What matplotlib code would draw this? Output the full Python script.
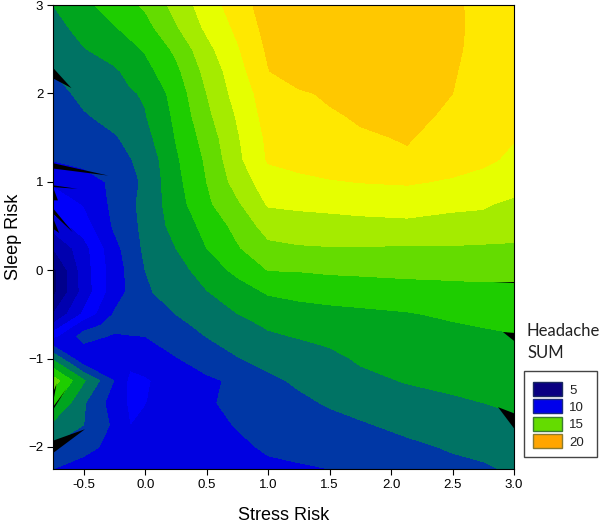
import matplotlib
matplotlib.use("Agg")
import matplotlib.pyplot as plt
from matplotlib.patches import Rectangle
import numpy as np

plt.rcParams['font.family'] = ['Liberation Sans', 'DejaVu Sans']

stress = [-0.75, -0.5, -0.25, -0.123, 0, 0.25, 0.5, 0.75, 1.0, 1.25, 1.5, 1.75, 2.13, 2.5, 2.75, 3.0]
sleep = [3, 2.75, 2.5, 2.25, 2, 1.75, 1.5, 1.25, 1, 0.75, 0.5, 0.25, 0, -0.25, -0.5, -0.624, -0.75, -1, -1.25, -1.5, -1.75, -2, -2.25]
headache = [
    [13.0, 13.75, 14.45, 14.8, 15.15, 16.35, 17.5, 18.5, 19.5, 20, 20.5, 20.7, 20.6, 19.4, 18.3, 18.2],
    [12.6, 13.4, 13.95, 14.3, 14.65, 15.9, 17.2, 18.2, 19.35, 20, 20.5, 20.7, 20.6, 19.4, 18.4, 18.2],
    [12.3, 12.95, 13.45, 13.75, 14.1, 15.2, 16.7, 17.9, 19.15, 19.9, 20.4, 20.6, 20.5, 19.25, 18.5, 18.2],
    [12.0, 12.5, 12.85, 13.25, 13.65, 14.75, 16.3, 17.6, 18.95, 19.8, 20.3, 20.5, 20.4, 19.1, 18.5, 18.2],
    [11.55, 12.3, 12.7, 12.9, 13.1, 14.4, 16, 17.4, 18.5, 18.8, 19.2, 19.6, 19.75, 19, 18.5, 18.2],
    [11.4, 11.9, 12.4, 12.67, 12.95, 14.2, 15.75, 17.1, 18.4, 18.65, 18.85, 19.15, 19.4, 18.75, 18.4, 18.2],
    [11.3, 11.6, 11.9, 12.27, 12.65, 14.05, 15.4, 16.9, 18.2, 18.5, 18.7, 18.85, 19.08, 18.55, 18.3, 18.05],
    [11.05, 11.3, 11.6, 11.95, 12.3, 13.85, 15.15, 16.75, 18.1, 18.35, 18.5, 18.65, 18.85, 18.4, 18.2, 17.8],
    [10.1, 10.55, 11.2, 11.7, 12.2, 13.7, 15, 16.4, 17.55, 17.75, 17.93, 18.03, 18.1, 17.9, 17.65, 17.45],
    [9.5, 10.05, 11.25, 11.8, 12.3, 13.55, 14.8, 15.85, 17.1, 17.2, 17.25, 17.35, 17.45, 17.15, 17.1, 16.8],
    [8.4, 9.5, 11.15, 11.7, 12.25, 13.35, 14.3, 15.3, 16.4, 16.55, 16.65, 16.7, 16.75, 16.75, 16.7, 16.6],
    [7, 8.6, 10.7, 11.45, 12.2, 13, 14, 14.9, 15.75, 15.9, 15.95, 15.95, 15.9, 15.9, 15.85, 15.8],
    [5.7, 8.5, 10.5, 11.25, 12, 12.6, 13.45, 14.25, 15.02, 15.05, 15.15, 15.2, 15.25, 15.35, 15.45, 15.5],
    [5.7, 8.4, 10.55, 11.2, 11.85, 12.45, 12.95, 13.5, 14.1, 14.3, 14.4, 14.45, 14.6, 14.6, 14.6, 14.5],
    [7, 9.2, 11.1, 11.3, 11.55, 12, 12.55, 12.98, 13.35, 13.55, 13.7, 13.8, 13.92, 14.15, 14.3, 14.4],
    [8.2, 10.55, 11.35, 11.35, 11.25, 11.72, 12.28, 12.7, 13.1, 13.3, 13.45, 13.58, 13.73, 13.92, 14.05, 14.17],
    [9.6, 11.4, 10.85, 10.95, 11, 11.45, 12.02, 12.45, 12.87, 13.05, 13.2, 13.35, 13.55, 13.7, 13.8, 13.93],
    [12.8, 10.1, 10.45, 10.3, 10.6, 10.95, 11.4, 11.95, 12.3, 12.55, 12.8, 13.1, 13.35, 13.45, 13.55, 13.6],
    [15.5, 13.1, 10.95, 9.75, 9.85, 10.6, 10.85, 11.15, 11.8, 12.15, 12.4, 12.8, 13.05, 13.25, 13.35, 13.4],
    [14.25, 12.1, 10.5, 9.85, 9.98, 10.3, 10.9, 11.2, 11.45, 11.8, 12.1, 12.35, 12.7, 12.85, 13, 13.2],
    [12.75, 12, 10.8, 9.99, 10.1, 10.35, 10.75, 11.05, 11.25, 11.5, 11.7, 11.9, 12.25, 12.5, 12.65, 12.75],
    [11.9, 11.3, 10.7, 10.5, 10.3, 10.4, 10.5, 10.85, 11.1, 11.25, 11.4, 11.55, 11.8, 12.1, 12.2, 12.3],
    [11, 10.6, 10.4, 10.35, 10.3, 10.3, 10.3, 10.5, 10.85, 10.9, 11, 11.15, 11.45, 11.75, 11.9, 12.1],
]
levels = [5, 6, 7, 8, 9, 10, 11, 12, 13, 14, 15, 16, 17, 18, 19, 30]
band_colors = ['#00006e', '#00008c', '#0000af', '#0000d2', '#0000fa', '#0000e1',
               '#0037a5', '#007364', '#00a51e', '#1ecd00', '#64dc00', '#a5eb00',
               '#e6ff00', '#ffe800', '#ffc800']
# Contouring gaps in the source, given in data units
gap_x = [[-0.75, -0.60, -0.75], [-0.75, -0.30, -0.75], [-0.75, -0.55, -0.75],
         [-0.75, -0.71, -0.75], [-0.75, -0.59, -0.75], [-0.75, -0.70, -0.75],
         [-0.72, -0.75, -0.75], [-0.64, -0.75, -0.75], [-0.75, -0.49, -0.75],
         [2.91, 3.0, 3.0], [2.87, 3.0, 3.0], [2.83, 3.0, 3.0]]
gap_y = [[2.29, 2.06, 2.17], [1.21, 1.07, 1.15], [0.96, 0.92, 0.94],
         [0.94, 0.79, 0.79], [0.70, 0.43, 0.64], [0.59, 0.42, 0.47],
         [-1.28, -1.50, -1.39], [-1.34, -1.58, -1.55], [-1.93, -1.80, -2.07],
         [-0.70, -0.71, -0.80], [-1.55, -1.62, -1.79], [-0.137, -0.137, -0.148]]
legend_labels = ['5', '10', '15', '20']
legend_colors = ['#0a0082', '#0000eb', '#64dc00', '#ffa500']
legend_edges = ['#1a2a60', '#1a2a80', '#3a7a30', '#8a7a30']

W, H = 600, 525
fig = plt.figure(figsize=(W / 100, H / 100), dpi=100)
ax = fig.add_axes([53 / W, 1 - 469 / H, (514 - 53) / W, (469 - 5) / H])
ax.contourf(stress, sleep, np.array(headache), levels=levels, colors=band_colors, antialiased=False)
for gx, gy in zip(gap_x, gap_y):
    ax.fill(gx, gy, color='black', lw=0)
ax.set_xlim(-0.75, 3.0)
ax.set_ylim(-2.25, 3.0)
ax.set_xticks([-0.5, 0, 0.5, 1, 1.5, 2, 2.5, 3])
ax.set_xticklabels(['-0.5', '0.0', '0.5', '1.0', '1.5', '2.0', '2.5', '3.0'])
ax.set_yticks([-2, -1, 0, 1, 2, 3])
ax.tick_params(labelsize=9.5, length=4, width=0.8, pad=3)
ax.set_xlabel('Stress Risk', fontsize=13, labelpad=12)
ax.set_ylabel('Sleep Risk', fontsize=13, labelpad=4)
for s in ax.spines.values():
    s.set_linewidth(0.8)

def px(x, y):
    return x / W, 1 - y / H

fig.text(*px(527, 336), 'Headache', fontsize=12, family='Lato', color='#222222', va='baseline')
fig.text(*px(527, 358), 'SUM', fontsize=12, family='Lato', color='#222222', va='baseline')
fig.add_artist(Rectangle(px(523.5, 457), 73 / W, 86 / H, transform=fig.transFigure,
                         fc='white', ec='#444444', lw=1))
rows_top = [381.5, 399, 416.5, 434]
for top, lab, c, e in zip(rows_top, legend_labels, legend_colors, legend_edges):
    fig.add_artist(Rectangle(px(533, top + 14), 29 / W, 14 / H, transform=fig.transFigure,
                             fc=c, ec=e, lw=1))
    fig.text(*px(569, top + 12), lab, fontsize=9.5, color='#222222', va='baseline')
fig.savefig('out.png', dpi=100)
